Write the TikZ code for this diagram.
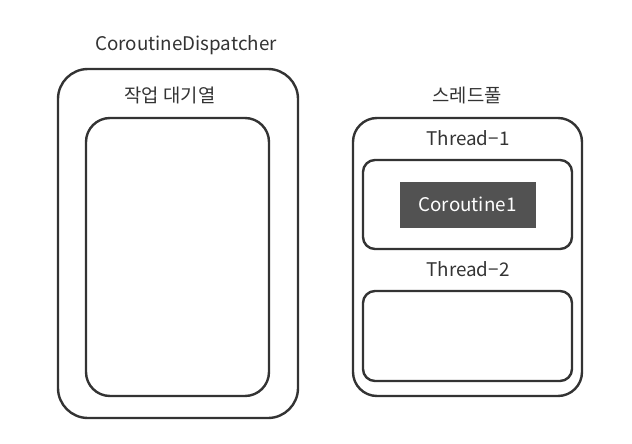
\documentclass[tikz,border=0pt]{standalone}
\usepackage{fontspec}
\setmainfont{Noto Sans CJK KR}
\begin{document}
\begin{tikzpicture}[x=1pt,y=-1pt,
  box/.style={draw=black!80,line width=2.4pt},
  lbl/.style={font=\fontsize{18.8}{21}\selectfont,text=black!80,inner sep=0pt},
  cor/.style={fill=black!68,draw=black!68,text=white,font=\fontsize{18.8}{21}\selectfont,inner sep=0pt}]
\useasboundingbox (0,0) rectangle (632,444);
\draw[box,rounded corners=30pt] (58,69) rectangle (298,418);
\draw[box,rounded corners=24pt] (86,118) rectangle (269,396);
\node[lbl] (disp) at (186,45) {CoroutineDispatcher};
\node[lbl] (queue) at (170,95) {작업 대기열};
\node[lbl] (pool) at (467,95) {스레드풀};
\draw[box,rounded corners=24pt] (353,118) rectangle (582,396);
\node[lbl] (t1) at (468,138) {Thread−1};
\draw[box,rounded corners=12pt] (363,160) rectangle (572,249);
\node[cor,minimum width=135pt,minimum height=45pt] (c1) at (467.5,204.5) {Coroutine1};
\node[lbl] (t2) at (468,269) {Thread−2};
\draw[box,rounded corners=12pt] (363,291) rectangle (572,381);
\end{tikzpicture}
\end{document}
